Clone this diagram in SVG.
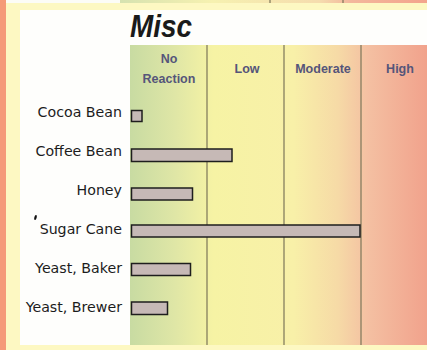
<svg xmlns="http://www.w3.org/2000/svg" width="427" height="350" viewBox="0 0 427 350">
  <defs>
    <linearGradient id="chartGrad" x1="130" y1="0" x2="427" y2="0" gradientUnits="userSpaceOnUse">
      <stop offset="0" stop-color="#c8dba2"/>
      <stop offset="0.15" stop-color="#dfe6a6"/>
      <stop offset="0.28" stop-color="#f6f3a4"/>
      <stop offset="0.55" stop-color="#f8f0a8"/>
      <stop offset="0.70" stop-color="#f6daa6"/>
      <stop offset="0.80" stop-color="#f4c0a2"/>
      <stop offset="1" stop-color="#f1a28c"/>
    </linearGradient>
    <linearGradient id="topGrad" x1="120" y1="0" x2="427" y2="0" gradientUnits="userSpaceOnUse">
      <stop offset="0" stop-color="#d6e2b0"/>
      <stop offset="0.3" stop-color="#f6f1b0"/>
      <stop offset="0.65" stop-color="#f5dcae"/>
      <stop offset="0.75" stop-color="#f3b89c"/>
      <stop offset="1" stop-color="#f3a48c"/>
    </linearGradient>
    <style>
      .lbl { font-family: "DejaVu Sans", "Liberation Sans", sans-serif; font-size: 14.2px; fill: #1c1c1c; text-anchor: end; }
      .hdr { font-family: "Liberation Sans", Arial, sans-serif; font-size: 12.5px; font-weight: bold; fill: #55557a; text-anchor: middle; }
      .bar { fill: #c6b9b6; stroke: #1e1e1e; stroke-width: 1.5; }
      .div { stroke: #7a7458; stroke-width: 1.4; stroke-opacity: 0.85; }
    </style>
  </defs>

  <!-- background -->
  <rect x="0" y="0" width="427" height="350" fill="#fdf8c2"/>
  <rect x="0" y="0" width="6" height="350" fill="#f59a78"/>
  <rect x="6" y="0" width="114" height="3" fill="#fcfcf6"/>
  <rect x="120" y="0" width="307" height="3" fill="url(#topGrad)"/>
  <line x1="270" y1="0" x2="270" y2="3" class="div"/>
  <line x1="343" y1="0" x2="343" y2="3" class="div"/>
  <rect x="20" y="10" width="407" height="335" fill="#fefefc"/>

  <!-- chart area -->
  <rect x="130" y="45" width="297" height="300" fill="url(#chartGrad)"/>
  <g id="dividers">
    <line x1="207" y1="45" x2="207" y2="345" class="div"/>
    <line x1="284" y1="45" x2="284" y2="345" class="div"/>
    <line x1="361" y1="45" x2="361" y2="345" class="div"/>
  </g>

  <!-- title -->
  <text id="title" x="130" y="37" font-family="Liberation Sans, Arial, sans-serif" font-size="31" font-weight="bold" font-style="italic" fill="#1a1a1a" textLength="62" lengthAdjust="spacingAndGlyphs">Misc</text>

  <!-- headers -->
  <g id="headers">
    <text class="hdr" x="169" y="63">No</text>
    <text class="hdr" x="169" y="83">Reaction</text>
    <text class="hdr" x="247" y="73">Low</text>
    <text class="hdr" x="323" y="73">Moderate</text>
    <text class="hdr" x="400" y="73">High</text>
  </g>

  <!-- rows -->
  <g id="row-cocoa">
    <text class="lbl" x="122" y="117">Cocoa Bean</text>
    <rect class="bar" x="131.5" y="110.5" width="10.5" height="11"/>
  </g>
  <g id="row-coffee">
    <text class="lbl" x="122" y="156">Coffee Bean</text>
    <rect class="bar" x="131.5" y="149" width="100.5" height="12.5"/>
  </g>
  <g id="row-honey">
    <text class="lbl" x="122" y="195">Honey</text>
    <rect class="bar" x="131.5" y="188" width="61" height="12"/>
  </g>
  <g id="row-sugar">
    <text class="lbl" x="122" y="234">Sugar Cane</text>
    <rect class="bar" x="131.5" y="225" width="228.5" height="12"/>
    <ellipse cx="35.5" cy="217.5" rx="1.2" ry="2.6" fill="#111" transform="rotate(15 35.5 217.5)"/>
  </g>
  <g id="row-baker">
    <text class="lbl" x="122" y="273">Yeast, Baker</text>
    <rect class="bar" x="131.5" y="263.5" width="59" height="12"/>
  </g>
  <g id="row-brewer">
    <text class="lbl" x="122" y="312">Yeast, Brewer</text>
    <rect class="bar" x="131.5" y="302" width="36" height="12.5"/>
  </g>
</svg>
